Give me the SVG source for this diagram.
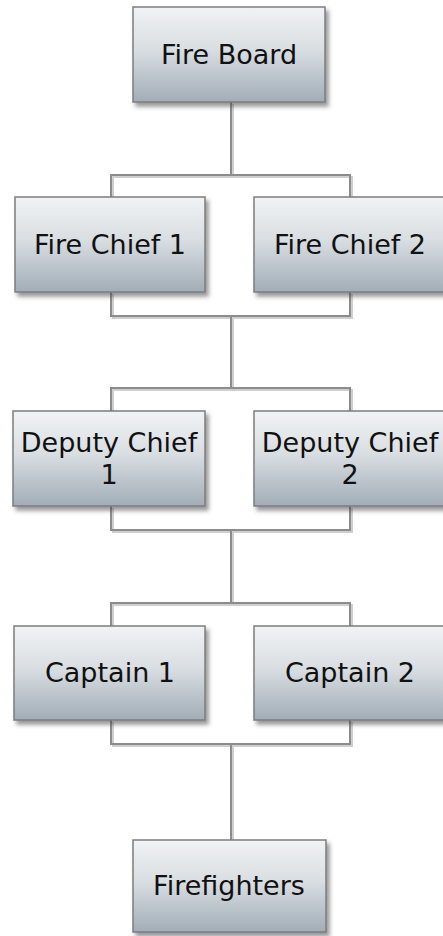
<svg xmlns="http://www.w3.org/2000/svg" width="443" height="936" viewBox="0 0 443 936">
<style>
.box{fill:url(#g);stroke:#7d7d7d;stroke-width:1.5;filter:url(#sh)}
.t{font-family:"DejaVu Sans",Verdana,sans-serif;font-size:27px;fill:#111;text-anchor:middle}
.ln{fill:none;stroke:#8c8c8c;stroke-width:2}
.ls{fill:none;stroke:#cfcfcf;stroke-width:2}
</style>
<defs>
<linearGradient id="g" x1="0" y1="0" x2="0" y2="1">
<stop offset="0" stop-color="#f1f3f5"/>
<stop offset="0.45" stop-color="#d9dee2"/>
<stop offset="1" stop-color="#a1adb7"/>
</linearGradient>
<filter id="sh" x="-10%" y="-10%" width="125%" height="130%">
<feDropShadow dx="3" dy="4" stdDeviation="2" flood-color="#444" flood-opacity="0.55"/>
</filter>
</defs>
<g id="connectors">
<g transform="translate(2,2)">
<path class="ls" d="M231,102 V175 M111,198 V175 H350 V198 M111,292 V316 H350 V292 M231,316 V388 M111,411 V388 H350 V411 M111,506 V530 H350 V506 M231,530 V603 M111,626 V603 H350 V626 M111,720 V744 H350 V720 M231,744 V840"/>
</g>
<path class="ln" d="M231,102 V175 M111,198 V175 H350 V198 M111,292 V316 H350 V292 M231,316 V388 M111,411 V388 H350 V411 M111,506 V530 H350 V506 M231,530 V603 M111,626 V603 H350 V626 M111,720 V744 H350 V720 M231,744 V840"/>
</g>
<g id="fire-board">
<rect class="box" x="133" y="7" width="192" height="95"/>
<text class="t" x="229" y="64">Fire Board</text>
</g>
<g id="fire-chief-1">
<rect class="box" x="15" y="197" width="190" height="95"/>
<text class="t" x="110" y="254">Fire Chief 1</text>
</g>
<g id="fire-chief-2">
<rect class="box" x="254" y="197" width="192" height="95"/>
<text class="t" x="350" y="254">Fire Chief 2</text>
</g>
<g id="deputy-chief-1">
<rect class="box" x="13" y="411" width="192" height="95"/>
<text class="t" x="109" y="452">Deputy Chief</text>
<text class="t" x="109" y="484">1</text>
</g>
<g id="deputy-chief-2">
<rect class="box" x="254" y="411" width="192" height="95"/>
<text class="t" x="350" y="452">Deputy Chief</text>
<text class="t" x="350" y="484">2</text>
</g>
<g id="captain-1">
<rect class="box" x="14" y="626" width="191" height="94"/>
<text class="t" x="110" y="682">Captain 1</text>
</g>
<g id="captain-2">
<rect class="box" x="254" y="626" width="192" height="94"/>
<text class="t" x="350" y="682">Captain 2</text>
</g>
<g id="firefighters">
<rect class="box" x="133" y="840" width="193" height="92"/>
<text class="t" x="229" y="895">Firefighters</text>
</g>
</svg>
